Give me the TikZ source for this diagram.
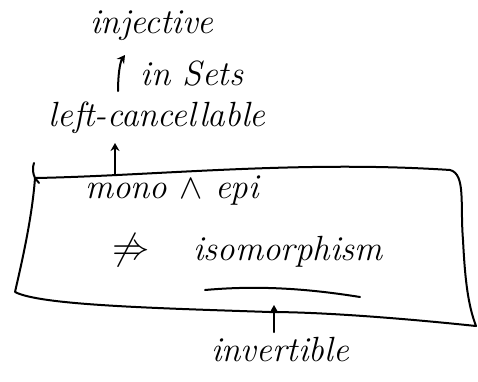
\documentclass[tikz,border=0pt]{standalone}
\usepackage{graphicx}
\usetikzlibrary{arrows.meta}
\begin{document}
\begin{tikzpicture}[x=1pt,y=-1pt,
  txt/.style={font=\fontsize{35}{38}\selectfont\itshape, inner sep=0pt, text=black},
  pen/.style={line width=2pt, line cap=round, line join=round},
  arr/.style={pen, -{Stealth[length=8pt,width=9pt]}}]
\useasboundingbox (0,0) rectangle (478,381);
% texts
\node[txt] (inj) at (152,26) {injective};
\node[txt] (insets) at (192,74) {in Sets};
\node[txt] (left) at (157,118) {left-cancellable};
\node[txt] (mono) at (172,191) {mono \scalebox{1.4}{$\wedge$} epi};
\node[txt] (notimp) at (131,250) {\scalebox{1.5}{$\not\Rightarrow$}};
\node[txt] (iso) at (288,252) {isomorphism};
\node[txt] (inv) at (280,350) {invertible};
% box
\coordinate (tl) at (35,178);
\coordinate (tr) at (450,170);
\coordinate (br) at (476,326);
\coordinate (bl) at (15,292);
\draw[pen] (34,163) .. controls (32,168) and (33,174) .. (tl) -- (39,183);
\draw[pen] (tl) .. controls (150,176) and (300,160) .. (tr)
  .. controls (466,174) and (460,205) .. (463,240)
  .. controls (465,280) and (468,305) .. (br)
  .. controls (400,318) and (320,312) .. (270,312)
  .. controls (150,308) and (40,305) .. (bl)
  .. controls (20,270) and (32,220) .. (tl);
% arrows
\coordinate (a1s) at (118,91);
\coordinate (a1e) at (125,55);
\draw[arr] (a1s) .. controls (118,75) and (120,62) .. (a1e);
\coordinate (a2s) at (115,175);
\coordinate (a2e) at (115,143);
\draw[arr] (a2s) -- (a2e);
\coordinate (a3s) at (274,332);
\coordinate (a3e) at (274,305);
\draw[arr] (a3s) -- (a3e);
% underline
\coordinate (u1) at (205,290);
\coordinate (u2) at (360,297);
\draw[pen] (u1) .. controls (260,285) and (310,289) .. (u2);
\end{tikzpicture}
\end{document}
